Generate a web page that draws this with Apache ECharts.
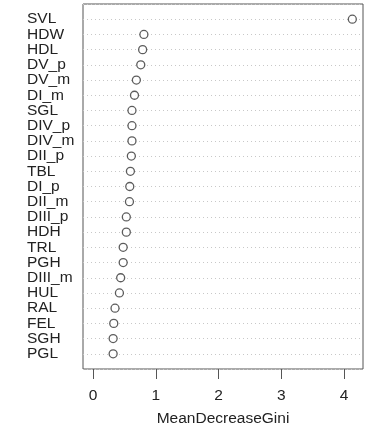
<!DOCTYPE html>
<html>
<head>
<meta charset="utf-8">
<script src="https://cdn.jsdelivr.net/npm/echarts@6/dist/echarts.min.js"></script>
<style>html,body{margin:0;padding:0;background:#fff}#c{width:368px;height:428px}</style>
</head>
<body>
<div id="c"></div>
<script>
const categories = ["SVL","HDW","HDL","DV_p","DV_m","DI_m","SGL","DIV_p","DIV_m","DII_p","TBL","DI_p","DII_m","DIII_p","HDH","TRL","PGH","DIII_m","HUL","RAL","FEL","SGH","PGL"];
const values = [4.13,0.81,0.79,0.76,0.69,0.66,0.62,0.62,0.62,0.61,0.595,0.585,0.58,0.53,0.53,0.48,0.48,0.44,0.42,0.35,0.33,0.32,0.32];
const xTicks = [0,1,2,3,4];

const data = values.map((v,i)=>[v,i]);
const font = '"Liberation Sans", Arial, sans-serif';
const chart = echarts.init(document.getElementById('c'), null, {renderer:'canvas'});
chart.setOption({
  animation:false,
  grid:{left:83,right:5,top:4,bottom:59,show:true,borderColor:'#555',borderWidth:1,backgroundColor:'transparent',outerBoundsMode:'none',containLabel:false},
  xAxis:{
    type:'value', min:-0.16, max:4.3, position:'bottom',
    name:'MeanDecreaseGini', nameLocation:'middle', nameGap:42,
    nameTextStyle:{fontFamily:font,fontSize:15.5,color:'#222'},
    axisLine:{show:false,onZero:false},
    axisTick:{show:true,length:10,lineStyle:{color:'#555',width:1},customValues:xTicks},
    axisLabel:{fontFamily:font,fontSize:15.5,color:'#222',margin:19,customValues:xTicks},
    splitLine:{show:false}
  },
  yAxis:{
    type:'value', inverse:true, min:-1, max:23, interval:1,
    axisLine:{show:false}, axisTick:{show:false},
    axisLabel:{
      fontFamily:font,fontSize:15.5,color:'#222',align:'left',margin:56,
      formatter:(v)=> (v>=0 && v<categories.length && Number.isInteger(v)) ? categories[v] : ''
    },
    splitLine:{show:true,lineStyle:{color:'#c8c8c8',type:[1,3],width:1}}
  },
  series:[{
    type:'scatter', data:data, symbol:'circle', symbolSize:8,
    itemStyle:{color:'#fff',borderColor:'#333',borderWidth:1.3}
  }]
});
</script>
</body>
</html>
